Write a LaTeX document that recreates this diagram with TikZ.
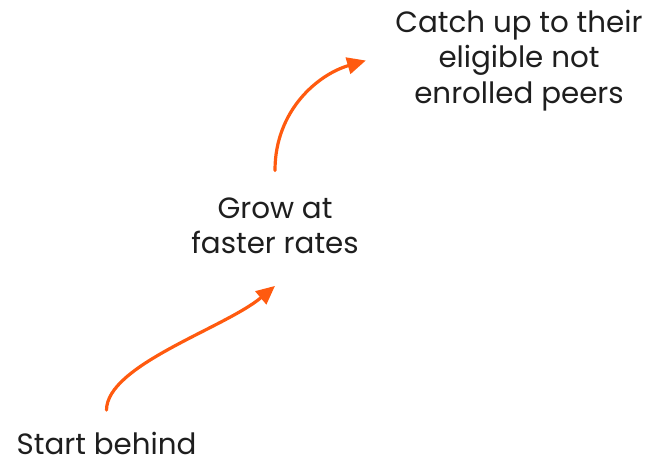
\documentclass[tikz,border=0pt]{standalone}
\usepackage{fontspec}
\setmainfont{Poppins}
\usetikzlibrary{arrows.meta}
\definecolor{groworange}{HTML}{FF5A0F}
\definecolor{labelgray}{HTML}{1E1E1E}
\tikzset{
  stage/.style  = {font=\fontsize{22}{26.5}\selectfont, text=labelgray,
                   align=center, inner sep=0pt},
  growth/.style = {draw=groworange, line width=2.4pt, line cap=round,
                   -{Triangle[length=14pt,width=12.5pt]}}
}
\begin{document}
\begin{tikzpicture}[x=0.75pt,y=-0.75pt]
  \useasboundingbox (0,0) rectangle (665,465);

  % the three stages, bottom to top
  \node[stage] (start) at (106.5,443) {Start behind};
  \node[stage] (grow)  at (275,225.5) {Grow at\\faster rates};
  \node[stage] (catch) at (519,60.5)  {Catch up to their\\eligible not\\enrolled peers};

  % curved arrows from one stage to the next
  \draw[growth] ([yshift=16pt]start.north)
    .. controls +(0,-45) and +(-50,42) .. ([yshift=-24pt]grow.south);
  \draw[growth] ([yshift=20pt]grow.north)
    .. controls +(0,-60) and +(-48,14) .. ([xshift=-22pt]catch.west);
\end{tikzpicture}
\end{document}
